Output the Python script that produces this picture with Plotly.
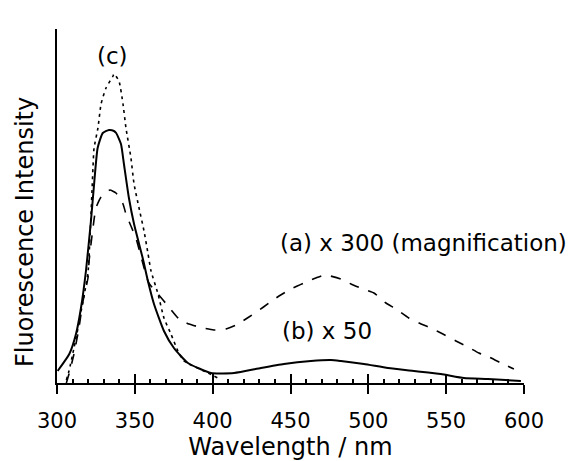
import plotly.graph_objects as go

# Wavelength (nm) and intensity (arbitrary units, 0 at baseline)
wl_b = [300.4, 307.9, 312.2, 315.4, 318.6, 321.8, 324.0, 326.1, 329.4, 333.4, 336.6, 338.0,
        341.1, 343.0, 346.2, 349.5, 355.2, 358.4, 362.3, 368.7, 375.1, 384.1, 398.9, 413.7,
        431.0, 445.8, 463.1, 476.0, 482.4, 497.2, 512.6, 529.3, 546.6, 561.4, 576.8, 598.0]
int_b = [12, 29, 49, 75, 112, 162, 202, 235, 250, 253, 252, 250,
         239, 219, 185, 159, 124, 102, 79, 52, 35, 20, 10, 10,
         15, 19, 22, 23, 22, 19, 15, 12, 9, 5, 4, 2]

wl_a = [306.0, 307.7, 310.9, 314.1, 316.7, 319.9, 320.6, 323.1, 325.0, 328.3, 331.5, 334.0,
        337.9, 342.4, 344.3, 347.5, 350.7, 359.0, 364.9, 371.3, 378.4, 384.8, 393.8, 400.8,
        408.5, 415.0, 423.3, 429.1, 436.2, 442.6, 451.6, 458.6, 466.3, 472.0, 482.4, 488.8,
        496.5, 503.6, 511.3, 517.7, 526.0, 532.5, 541.5, 547.9, 556.3, 562.7, 571.0, 577.5,
        586.5, 593.5]
int_a = [0, 9, 29, 55, 82, 105, 122, 155, 175, 186, 191, 193,
         190, 179, 169, 157, 145, 100, 89, 77, 64, 59, 55, 53,
         54, 58, 66, 72, 80, 87, 95, 100, 105, 108, 104, 99,
         94, 90, 80, 74, 65, 60, 54, 49, 42, 37, 30, 26,
         19, 14]

wl_c = [306.0, 307.7, 310.9, 313.5, 316.7, 319.9, 323.1, 323.8, 326.3, 328.3, 331.5, 336.0,
        336.6, 339.8, 342.4, 344.3, 347.5, 349.5, 352.7, 355.9, 358.4, 360.4, 364.9, 368.7,
        373.2, 377.7, 381.6, 397.0, 403.4]
int_c = [3, 12, 35, 55, 82, 110, 215, 235, 255, 279, 295, 307,
         309, 302, 279, 255, 225, 199, 175, 152, 130, 112, 89, 65,
         49, 32, 22, 10, 5]

x_ticks = [300, 350, 400, 450, 500, 550, 600]

FONT = "DejaVu Sans"

fig = go.Figure()
fig.add_trace(go.Scatter(x=wl_a, y=int_a, mode="lines",
                         line=dict(color="black", width=1.6, dash="10px,10px", shape="spline", smoothing=0.5),
                         showlegend=False, name="(a) x 300"))
fig.add_trace(go.Scatter(x=wl_b, y=int_b, mode="lines",
                         line=dict(color="black", width=2, shape="spline", smoothing=0.5),
                         showlegend=False, name="(b) x 50"))
fig.add_trace(go.Scatter(x=wl_c, y=int_c, mode="lines",
                         line=dict(color="black", width=1.6, dash="3px,4px", shape="spline", smoothing=0.5),
                         showlegend=False, name="(c)", xaxis="x2"))

fig.update_layout(
    width=578, height=461,
    margin=dict(l=49, r=62, t=21, b=86),
    paper_bgcolor="white", plot_bgcolor="white",
    font=dict(family=FONT, color="black"),
    xaxis=dict(range=[300, 600], tickvals=x_ticks, ticktext=[str(v) for v in x_ticks],
               ticks="outside", ticklen=9, tickwidth=2, tickcolor="black", automargin=False,
               showline=True, linewidth=2, linecolor="black", showgrid=False, zeroline=False,
               tickfont=dict(size=21, family=FONT), ticklabelstandoff=9,
               title=dict(text="Wavelength / nm", font=dict(size=24, family=FONT), standoff=2)),
    xaxis2=dict(range=[300, 600], overlaying="x", anchor="y", side="bottom", automargin=False,
                tickvals=x_ticks, ticks="inside", ticklen=9, tickwidth=2, tickcolor="black",
                showticklabels=False, showline=False, showgrid=False, zeroline=False,
                minor=dict(dtick=10, tick0=300, ticks="inside", ticklen=4, tickwidth=1.5,
                           tickcolor="black", showgrid=False)),
    yaxis=dict(range=[0, 354], showticklabels=False, ticks="", showline=True, linewidth=2,
               linecolor="black", showgrid=False, zeroline=False, automargin=False),
)

fig.add_annotation(x=-0.0685, y=0.4266, text="Fluorescence Intensity", showarrow=False,
                   xref="paper", yref="paper", textangle=-90, xanchor="center", yanchor="middle",
                   font=dict(size=24, family=FONT))
fig.add_annotation(x=336.6, y=309, text="(c)", showarrow=False, xref="x", yref="y",
                   yshift=18, xshift=-1, font=dict(size=23, family=FONT))
fig.add_annotation(x=0.4725, y=int_a[33], text="(a) x 300 (magnification)", showarrow=False,
                   xref="paper", yref="y", xanchor="left", yshift=32, font=dict(size=23, family=FONT))
fig.add_annotation(x=0.478, y=int_b[27], text="(b) x 50", showarrow=False,
                   xref="paper", yref="y", xanchor="left", yshift=29, font=dict(size=23, family=FONT))

fig.write_html("out.html")
